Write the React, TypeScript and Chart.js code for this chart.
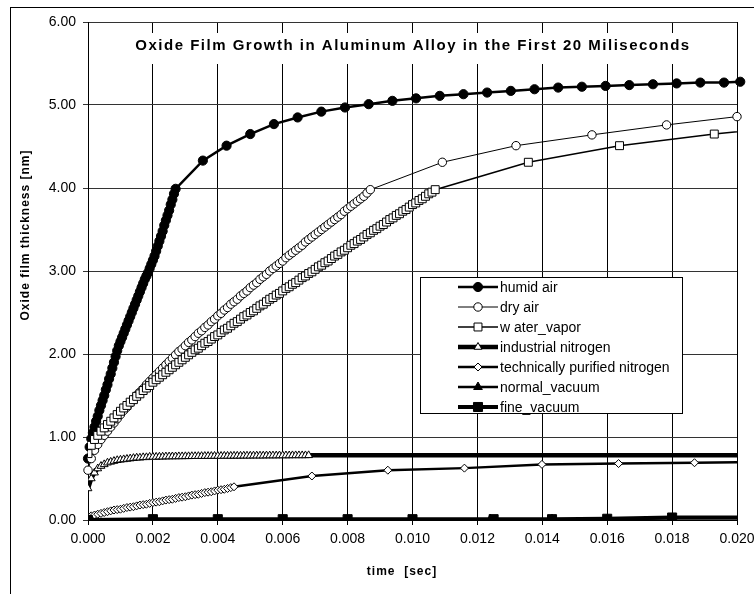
import React, { useEffect, useRef } from 'react';
import { Chart, registerables } from 'chart.js';
import { drawPoint } from 'chart.js/helpers';

Chart.register(...registerables);

const CHART_TITLE = 'Oxide Film Growth in Aluminum Alloy in the First 20 Miliseconds';
const X_TITLE = 'time  [sec]';
const Y_TITLE = 'Oxide film thickness [nm]';

const X_MIN = 0;
const X_MAX = 0.02;
const X_STEP = 0.002;
const Y_MIN = 0;
const Y_MAX = 6;
const Y_STEP = 1;

const SERIES_NAMES = [
  'humid air',
  'dry air',
  'w ater_vapor',
  'industrial nitrogen',
  'technically purified nitrogen',
  'normal_vacuum',
  'fine_vacuum',
];

// sampling intervals of the densely recorded start of the curves [sec]
const DT_HUMID = 0.00005;
const DT = 0.0001;

// humid air
const HUMID_DENSE = [0.74, 0.88, 0.98, 1.05, 1.12, 1.19, 1.25, 1.32, 1.38, 1.44, 1.5, 1.57, 1.63, 1.7, 1.76, 1.83, 1.9, 1.97, 2.04, 2.1, 2.15, 2.2, 2.25, 2.3, 2.35, 2.4, 2.45, 2.5, 2.55, 2.6, 2.65, 2.7, 2.75, 2.8, 2.85, 2.9, 2.94, 2.98, 3.03, 3.08, 3.13, 3.18, 3.24, 3.3, 3.36, 3.42, 3.48, 3.55, 3.61, 3.67, 3.73, 3.8, 3.86, 3.93, 3.99];
const HUMID_TAIL_T = [0.00354, 0.00427, 0.005, 0.00573, 0.00646, 0.00719, 0.00792, 0.00865, 0.00938, 0.01011, 0.01084, 0.01157, 0.0123, 0.01303, 0.01376, 0.01449, 0.01522, 0.01595, 0.01668, 0.01741, 0.01814, 0.01887, 0.0196, 0.0201];
const HUMID_TAIL_V = [4.33, 4.51, 4.65, 4.77, 4.85, 4.92, 4.97, 5.01, 5.05, 5.08, 5.11, 5.13, 5.15, 5.17, 5.19, 5.21, 5.22, 5.23, 5.24, 5.25, 5.26, 5.27, 5.27, 5.28];

// dry air
const DRY_DENSE = [0.6, 0.74, 0.84, 0.91, 0.97, 1.02, 1.07, 1.12, 1.17, 1.22, 1.27, 1.32, 1.36, 1.41, 1.45, 1.5, 1.54, 1.58, 1.63, 1.67, 1.71, 1.75, 1.79, 1.83, 1.87, 1.91, 1.95, 1.99, 2.03, 2.06, 2.1, 2.14, 2.17, 2.21, 2.25, 2.28, 2.32, 2.35, 2.39, 2.42, 2.46, 2.49, 2.53, 2.56, 2.6, 2.63, 2.66, 2.7, 2.73, 2.76, 2.8, 2.83, 2.86, 2.9, 2.93, 2.96, 3.0, 3.03, 3.06, 3.09, 3.12, 3.16, 3.19, 3.22, 3.25, 3.28, 3.31, 3.35, 3.38, 3.41, 3.44, 3.47, 3.5, 3.53, 3.56, 3.59, 3.62, 3.65, 3.68, 3.72, 3.75, 3.78, 3.81, 3.84, 3.87, 3.9, 3.94, 3.98];
const DRY_TAIL_T = [0.01092, 0.01319, 0.01553, 0.01783, 0.02];
const DRY_TAIL_V = [4.31, 4.51, 4.64, 4.76, 4.86];

// water vapor
const WATER_DENSE = [0.8, 0.9, 0.97, 1.02, 1.07, 1.11, 1.15, 1.19, 1.23, 1.27, 1.31, 1.35, 1.38, 1.42, 1.45, 1.49, 1.52, 1.56, 1.59, 1.62, 1.66, 1.69, 1.72, 1.75, 1.78, 1.81, 1.84, 1.87, 1.9, 1.93, 1.96, 1.99, 2.02, 2.05, 2.07, 2.1, 2.13, 2.15, 2.18, 2.21, 2.23, 2.26, 2.29, 2.31, 2.34, 2.37, 2.39, 2.42, 2.45, 2.47, 2.5, 2.52, 2.55, 2.58, 2.6, 2.63, 2.66, 2.68, 2.71, 2.73, 2.76, 2.79, 2.81, 2.84, 2.86, 2.89, 2.92, 2.94, 2.97, 2.99, 3.02, 3.05, 3.07, 3.1, 3.12, 3.15, 3.18, 3.2, 3.23, 3.25, 3.28, 3.31, 3.33, 3.36, 3.38, 3.41, 3.44, 3.46, 3.49, 3.51, 3.54, 3.56, 3.59, 3.62, 3.64, 3.67, 3.69, 3.72, 3.74, 3.77, 3.8, 3.82, 3.85, 3.87, 3.9, 3.93, 3.95, 3.98];
const WATER_TAIL_T = [0.01357, 0.01638, 0.0193, 0.0222];
const WATER_TAIL_V = [4.31, 4.51, 4.65, 4.77];

// industrial nitrogen
const IND_DENSE = [0.38, 0.5, 0.57, 0.62, 0.65, 0.67, 0.69, 0.7, 0.71, 0.72, 0.725, 0.73, 0.735, 0.74, 0.745, 0.75, 0.75, 0.755, 0.755, 0.76, 0.76, 0.76, 0.762, 0.762, 0.764, 0.764, 0.765, 0.765, 0.766, 0.766, 0.767, 0.767, 0.768, 0.768, 0.769, 0.769, 0.77, 0.77, 0.77, 0.771, 0.771, 0.771, 0.772, 0.772, 0.772, 0.773, 0.773, 0.773, 0.774, 0.774, 0.774, 0.775, 0.775, 0.775, 0.775, 0.776, 0.776, 0.776, 0.776, 0.777, 0.777, 0.777, 0.777, 0.778, 0.778, 0.778, 0.778, 0.778, 0.779];
const IND_TAIL_T = [0.025];
const IND_TAIL_V = [0.78];

// technically purified nitrogen
const TECH_DENSE = [0.03, 0.05, 0.06, 0.07, 0.08, 0.09, 0.1, 0.11, 0.12, 0.125, 0.13, 0.14, 0.15, 0.155, 0.16, 0.17, 0.18, 0.185, 0.19, 0.2, 0.21, 0.215, 0.22, 0.23, 0.24, 0.245, 0.25, 0.26, 0.27, 0.275, 0.28, 0.29, 0.3, 0.305, 0.31, 0.32, 0.33, 0.335, 0.34, 0.35, 0.36, 0.365, 0.37, 0.38, 0.39, 0.4];
const TECH_TAIL_T = [0.0069, 0.00924, 0.0116, 0.01399, 0.01635, 0.01869, 0.021];
const TECH_TAIL_V = [0.53, 0.6, 0.625, 0.67, 0.68, 0.69, 0.7];

// normal vacuum
const NVAC_T = [0, 0.002, 0.004, 0.006, 0.008, 0.01, 0.0124, 0.0143, 0.016, 0.018, 0.0205];
const NVAC_V = [0.0, 0.005, 0.005, 0.005, 0.005, 0.005, 0.01, 0.01, 0.01, 0.02, 0.02];

// fine vacuum
const FVAC_T = [0, 0.002, 0.004, 0.006, 0.008, 0.01, 0.0125, 0.0143, 0.016, 0.018, 0.0205];
const FVAC_V = [0.0, 0.01, 0.01, 0.01, 0.01, 0.01, 0.01, 0.01, 0.015, 0.03, 0.03];

const FONT = '"Liberation Sans", Arial, sans-serif';

function pts(dense: number[], step: number, tailT: number[], tailV: number[]) {
  const out = dense.map((v, i) => ({ x: i * step, y: v }));
  tailT.forEach((t, i) => out.push({ x: t, y: tailV[i] }));
  return out;
}

const STYLES = [
  { lw: 2.5, ps: 'circle', r: 4.6, fill: '#000', bw: 1 },
  { lw: 1, ps: 'circle', r: 4.2, fill: '#fff', bw: 1 },
  { lw: 1.5, ps: 'rect', r: 5.6, fill: '#fff', bw: 1 },
  { lw: 4.5, ps: 'triangle', r: 4.5, fill: '#fff', bw: 1 },
  { lw: 2.5, ps: 'rectRot', r: 4, fill: '#fff', bw: 1 },
  { lw: 2.5, ps: 'triangle', r: 5, fill: '#000', bw: 1 },
  { lw: 4, ps: 'rect', r: 6.4, fill: '#000', bw: 1 },
];

const decor = {
  id: 'decor',
  afterDraw(chart: any) {
    const ctx = chart.ctx as CanvasRenderingContext2D;
    ctx.save();
    ctx.strokeStyle = '#000';
    ctx.lineWidth = 1;
    ctx.strokeRect(10.5, 7.5, 1000, 1000);

    // title
    ctx.fillStyle = '#fff';
    ctx.fillRect(100, 33, 625, 31);
    ctx.fillStyle = '#000';
    (ctx as any).letterSpacing = '1.5px';
    ctx.font = 'bold 15px ' + FONT;
    ctx.textAlign = 'center';
    ctx.textBaseline = 'middle';
    ctx.fillText(CHART_TITLE, 413, 46);

    (ctx as any).letterSpacing = '1px';
    ctx.font = 'bold 12px ' + FONT;
    ctx.fillText(X_TITLE, 402, 572);
    ctx.save();
    ctx.translate(26, 235);
    ctx.rotate(-Math.PI / 2);
    ctx.fillText(Y_TITLE, 0, 0);
    ctx.restore();
    (ctx as any).letterSpacing = '0px';

    // legend
    const lx = 420.5, ly = 277.5, lw = 262, lh = 136;
    ctx.fillStyle = '#fff';
    ctx.fillRect(lx, ly, lw, lh);
    ctx.strokeStyle = '#000';
    ctx.lineWidth = 1;
    ctx.strokeRect(lx, ly, lw, lh);
    ctx.font = '14px ' + FONT;
    ctx.textAlign = 'left';
    ctx.textBaseline = 'middle';
    chart.data.datasets.forEach((ds: any, i: number) => {
      const y = 287 + i * 20;
      ctx.strokeStyle = '#000';
      ctx.lineWidth = ds.borderWidth;
      ctx.beginPath();
      ctx.moveTo(458, y);
      ctx.lineTo(498, y);
      ctx.stroke();
      ctx.fillStyle = ds.pointBackgroundColor;
      ctx.strokeStyle = '#000';
      ctx.lineWidth = ds.pointBorderWidth;
      drawPoint(ctx, { pointStyle: ds.pointStyle, radius: ds.pointRadius, borderWidth: ds.pointBorderWidth, rotation: 0 } as any, 478, y);
      ctx.fillStyle = '#000';
      ctx.fillText(ds.label, 500, y + 1);
    });
    ctx.restore();
  },
};

export default function App() {
  const ref = useRef<HTMLCanvasElement | null>(null);
  useEffect(() => {
    if (!ref.current) return;
    const series = [
      pts(HUMID_DENSE, DT_HUMID, HUMID_TAIL_T, HUMID_TAIL_V),
      pts(DRY_DENSE, DT, DRY_TAIL_T, DRY_TAIL_V),
      pts(WATER_DENSE, DT, WATER_TAIL_T, WATER_TAIL_V),
      pts(IND_DENSE, DT, IND_TAIL_T, IND_TAIL_V),
      pts(TECH_DENSE, DT, TECH_TAIL_T, TECH_TAIL_V),
      NVAC_T.map((t, i) => ({ x: t, y: NVAC_V[i] })),
      FVAC_T.map((t, i) => ({ x: t, y: FVAC_V[i] })),
    ];
    const datasets = series.map((data, i) => {
      const s = STYLES[i];
      return {
        label: SERIES_NAMES[i],
        data,
        showLine: true,
        borderColor: '#000',
        borderWidth: s.lw,
        pointStyle: s.ps,
        pointRadius: s.r,
        pointBackgroundColor: s.fill,
        pointBorderColor: '#000',
        pointBorderWidth: s.bw,
        tension: 0,
        order: 6 - i,
        clip: i <= 1 ? false : 0,
      };
    });
    const chart = new Chart(ref.current, {
      type: 'scatter',
      data: { datasets } as any,
      options: {
        animation: false,
        responsive: false,
        devicePixelRatio: 1,
        layout: { padding: { top: 22, right: 43, left: 0, bottom: 0 } },
        plugins: { legend: { display: false }, tooltip: { enabled: false }, title: { display: false } },
        scales: {
          x: {
            type: 'linear',
            min: X_MIN,
            max: X_MAX,
            afterFit: (s: any) => { s.height = 100; },
            ticks: {
              stepSize: X_STEP,
              autoSkip: false,
              maxRotation: 0,
              padding: 6,
              color: '#000',
              font: { family: FONT, size: 14 },
              callback: (v: any) => Number(v).toFixed(3),
            },
            grid: { color: '#000', lineWidth: 1, tickLength: 5 },
            border: { color: '#000', width: 1 },
          },
          y: {
            min: Y_MIN,
            max: Y_MAX,
            afterFit: (s: any) => { s.width = 88; },
            ticks: {
              stepSize: Y_STEP,
              padding: 7,
              color: '#000',
              font: { family: FONT, size: 14 },
              callback: (v: any) => Number(v).toFixed(2),
            },
            grid: { color: '#333', lineWidth: 1, tickLength: 5 },
            border: { color: '#000', width: 1 },
          },
        },
      },
      plugins: [decor],
    } as any);
    return () => chart.destroy();
  }, []);
  return (
    <div style={{ position: 'fixed', left: 0, top: 0, width: 754, height: 594, overflow: 'hidden', background: '#fff' }}>
      <canvas ref={ref} width={780} height={620} style={{ display: 'block' }} />
    </div>
  );
}
